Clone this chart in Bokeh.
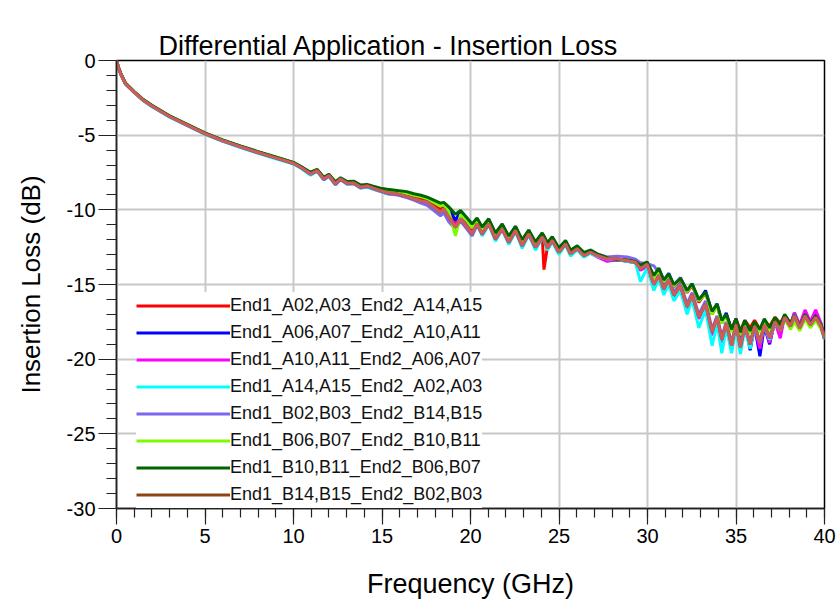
from bokeh.plotting import figure
from bokeh.models import FixedTicker, Legend, LegendItem, Title
from bokeh.embed import file_html
from bokeh.resources import INLINE

# ---------------- data ----------------
freq_ghz = [
    0, 0.1, 0.25, 0.5, 1, 1.5, 2, 3, 4, 5,
    6, 7, 8, 9, 10, 10.4, 10.96, 11.34, 11.71, 12.0,
    12.37, 12.66, 13.03, 13.4, 13.79, 14.16, 14.5, 14.92, 15.3, 15.85,
    16.4, 16.8, 17.2, 17.55, 17.93, 18.3, 18.49, 18.77, 19.15, 19.44,
    19.81, 20.09, 20.37, 20.66, 21.03, 21.41, 21.79, 22.16, 22.54, 22.92,
    23.29, 23.67, 24.05, 24.15, 24.35, 24.62, 24.99, 25.37, 25.65, 26.03,
    26.4, 26.78, 27.15, 27.72, 28.28, 28.85, 29.32, 29.6, 29.98, 30.36,
    30.64, 30.92, 31.2, 31.49, 31.86, 32.24, 32.52, 32.9, 33.28, 33.65,
    33.93, 34.2, 34.45, 34.75, 35.0, 35.25, 35.5, 35.8, 36.05, 36.35,
    36.6, 36.9, 37.2, 37.5, 37.75, 38.08, 38.3, 38.6, 38.9, 39.2,
    39.5, 39.8, 40.0,
]

il_a02_a03 = [
    0.0, -0.45, -0.91, -1.54, -2.11, -2.64, -3.04, -3.74, -4.32, -4.89,
    -5.36, -5.76, -6.14, -6.50, -6.86, -7.12, -7.55, -7.34, -7.90, -7.67,
    -8.22, -7.90, -8.18, -8.15, -8.44, -8.36, -8.50, -8.66, -8.78, -8.85,
    -8.98, -9.10, -9.22, -9.32, -9.62, -9.95, -9.80, -10.30, -10.90, -10.40,
    -10.95, -11.35, -10.80, -11.40, -10.80, -11.80, -11.15, -12.00, -11.28, -12.25,
    -11.50, -12.38, -11.70, -14.00, -12.45, -11.95, -12.72, -12.18, -12.85, -12.52,
    -12.98, -12.78, -13.02, -13.25, -13.30, -13.38, -13.48, -13.85, -13.60, -14.60,
    -14.05, -14.85, -14.40, -15.15, -14.70, -15.55, -15.05, -16.20, -15.55, -17.00,
    -16.40, -17.60, -17.00, -18.00, -17.30, -18.10, -17.40, -17.90, -17.40, -18.00,
    -17.40, -17.80, -17.20, -17.60, -17.10, -17.70, -17.20, -17.90, -17.10, -17.70,
    -17.20, -17.80, -18.60,
]

il_a06_a07 = [
    0.0, -0.44, -0.90, -1.53, -2.10, -2.63, -3.03, -3.73, -4.31, -4.88,
    -5.35, -5.75, -6.13, -6.49, -6.85, -7.10, -7.52, -7.33, -7.87, -7.66,
    -8.20, -7.89, -8.16, -8.13, -8.42, -8.35, -8.48, -8.62, -8.72, -8.80,
    -8.88, -9.00, -9.10, -9.20, -9.45, -9.70, -9.55, -9.90, -10.70, -10.10,
    -10.70, -11.15, -10.60, -11.25, -10.65, -11.65, -10.98, -11.85, -11.12, -12.10,
    -11.38, -12.25, -11.58, -11.78, -12.30, -11.85, -12.60, -12.10, -12.75, -12.48,
    -12.95, -12.80, -13.10, -13.40, -13.35, -13.45, -13.55, -13.90, -13.50, -14.50,
    -13.95, -14.75, -14.25, -15.05, -14.55, -15.45, -14.95, -16.10, -15.40, -16.90,
    -16.30, -17.50, -16.90, -18.10, -17.30, -18.60, -17.60, -19.40, -17.80, -19.80,
    -17.80, -19.00, -17.40, -18.30, -17.10, -17.70, -16.90, -17.80, -16.80, -17.60,
    -16.90, -17.60, -18.70,
]

il_a10_a11 = [
    0.0, -0.46, -0.93, -1.56, -2.13, -2.66, -3.06, -3.76, -4.34, -4.91,
    -5.38, -5.78, -6.17, -6.53, -6.89, -7.16, -7.62, -7.40, -7.97, -7.73,
    -8.30, -7.96, -8.26, -8.23, -8.52, -8.44, -8.60, -8.76, -8.90, -8.98,
    -9.15, -9.30, -9.45, -9.55, -9.90, -10.25, -10.00, -10.50, -11.00, -10.55,
    -11.10, -11.55, -10.90, -11.55, -10.90, -11.90, -11.22, -12.12, -11.36, -12.36,
    -11.58, -12.48, -11.80, -11.98, -12.55, -12.05, -12.82, -12.27, -12.95, -12.60,
    -13.05, -12.90, -13.15, -13.45, -13.35, -13.42, -13.55, -14.05, -13.80, -15.30,
    -14.40, -15.40, -14.75, -15.80, -15.20, -16.60, -15.80, -17.30, -16.40, -18.40,
    -17.30, -18.90, -17.70, -19.20, -17.80, -19.10, -17.80, -19.00, -17.90, -19.30,
    -17.70, -18.90, -17.50, -18.60, -17.10, -17.70, -16.90, -17.70, -16.70, -17.50,
    -16.70, -17.60, -18.40,
]

il_a14_a15 = [
    0.0, -0.47, -0.95, -1.58, -2.15, -2.68, -3.09, -3.79, -4.37, -4.95,
    -5.42, -5.83, -6.22, -6.58, -6.94, -7.20, -7.68, -7.42, -8.00, -7.75,
    -8.33, -7.98, -8.28, -8.25, -8.55, -8.47, -8.62, -8.78, -8.92, -8.98,
    -9.12, -9.30, -9.45, -9.55, -9.90, -10.25, -10.00, -10.55, -11.25, -10.65,
    -11.25, -11.75, -11.00, -11.75, -11.00, -12.10, -11.32, -12.32, -11.45, -12.58,
    -11.68, -12.70, -11.90, -12.05, -12.70, -12.12, -13.00, -12.34, -13.10, -12.68,
    -13.18, -12.90, -13.12, -13.30, -13.32, -13.45, -13.55, -14.80, -13.90, -15.40,
    -14.60, -15.70, -15.00, -16.10, -15.40, -17.00, -16.00, -17.90, -16.70, -19.10,
    -17.60, -19.60, -17.90, -19.60, -18.00, -19.65, -18.00, -19.30, -17.90, -18.90,
    -17.80, -18.70, -17.60, -18.10, -17.30, -17.90, -17.20, -17.90, -17.20, -17.80,
    -17.30, -17.90, -18.70,
]

il_b02_b03 = [
    0.0, -0.45, -0.92, -1.55, -2.12, -2.66, -3.06, -3.76, -4.34, -4.92,
    -5.39, -5.79, -6.18, -6.54, -6.90, -7.17, -7.62, -7.40, -7.98, -7.74,
    -8.32, -7.97, -8.27, -8.24, -8.53, -8.45, -8.60, -8.76, -8.92, -9.00,
    -9.18, -9.35, -9.55, -9.70, -10.05, -10.40, -10.20, -10.80, -11.30, -10.75,
    -11.30, -11.75, -11.00, -11.65, -10.95, -11.98, -11.30, -12.20, -11.42, -12.42,
    -11.64, -12.52, -11.86, -12.02, -12.55, -12.05, -12.80, -12.25, -12.90, -12.55,
    -12.95, -12.70, -12.95, -13.15, -13.10, -13.15, -13.30, -13.55, -13.60, -13.75,
    -14.20, -15.10, -14.55, -15.50, -14.95, -16.30, -15.55, -17.00, -16.10, -18.00,
    -17.10, -18.50, -17.50, -18.90, -17.60, -19.00, -17.70, -18.90, -17.70, -18.80,
    -17.60, -18.50, -17.40, -18.00, -17.10, -17.70, -17.00, -17.80, -17.00, -17.60,
    -17.10, -17.70, -18.50,
]

il_b06_b07 = [
    0.0, -0.44, -0.90, -1.52, -2.10, -2.62, -3.02, -3.72, -4.30, -4.87,
    -5.34, -5.74, -6.12, -6.48, -6.84, -7.10, -7.52, -7.32, -7.86, -7.65,
    -8.18, -7.88, -8.15, -8.12, -8.40, -8.34, -8.48, -8.62, -8.70, -8.80,
    -8.90, -9.02, -9.12, -9.25, -9.50, -9.75, -9.65, -10.10, -11.75, -10.30,
    -10.75, -11.20, -10.70, -11.30, -10.70, -11.70, -11.05, -11.90, -11.20, -12.15,
    -11.45, -12.30, -11.65, -11.85, -12.35, -11.90, -12.65, -12.15, -12.80, -12.50,
    -12.95, -12.75, -13.00, -13.25, -13.30, -13.40, -13.50, -13.80, -13.60, -14.60,
    -14.00, -14.80, -14.35, -15.10, -14.60, -15.50, -15.00, -16.10, -15.55, -17.00,
    -16.40, -17.60, -17.10, -18.20, -17.40, -18.40, -17.60, -18.30, -17.70, -18.20,
    -17.50, -18.10, -17.40, -17.90, -17.30, -18.00, -17.50, -18.10, -17.30, -17.90,
    -17.40, -18.00, -18.50,
]

il_b10_b11 = [
    0.0, -0.42, -0.88, -1.50, -2.08, -2.60, -3.00, -3.70, -4.28, -4.85,
    -5.32, -5.72, -6.10, -6.46, -6.82, -7.08, -7.48, -7.30, -7.82, -7.62,
    -8.12, -7.85, -8.10, -8.08, -8.34, -8.30, -8.42, -8.55, -8.62, -8.70,
    -8.78, -8.92, -9.02, -9.15, -9.35, -9.55, -9.50, -9.80, -10.30, -10.05,
    -10.55, -10.95, -10.55, -11.15, -10.60, -11.55, -10.95, -11.75, -11.10, -12.00,
    -11.35, -12.15, -11.55, -11.75, -12.20, -11.80, -12.55, -12.05, -12.70, -12.40,
    -12.85, -12.70, -12.95, -13.20, -13.35, -13.35, -13.45, -13.70, -13.50, -14.40,
    -13.90, -14.70, -14.30, -15.00, -14.60, -15.40, -14.95, -16.00, -15.50, -16.80,
    -16.30, -17.40, -17.00, -18.00, -17.30, -18.20, -17.40, -18.10, -17.50, -18.00,
    -17.30, -17.90, -17.20, -17.70, -17.00, -17.60, -17.05, -17.80, -17.00, -17.60,
    -17.10, -17.70, -18.40,
]

il_b14_b15 = [
    0.0, -0.45, -0.92, -1.55, -2.12, -2.65, -3.05, -3.75, -4.33, -4.90,
    -5.37, -5.77, -6.16, -6.52, -6.88, -7.15, -7.59, -7.37, -7.93, -7.70,
    -8.26, -7.93, -8.22, -8.20, -8.48, -8.40, -8.55, -8.71, -8.85, -8.93,
    -9.10, -9.26, -9.40, -9.48, -9.82, -10.16, -9.93, -10.49, -11.16, -10.60,
    -11.16, -11.60, -10.94, -11.60, -10.94, -11.94, -11.27, -12.16, -11.39, -12.39,
    -11.61, -12.50, -11.83, -12.00, -12.55, -12.06, -12.84, -12.28, -12.95, -12.61,
    -13.06, -12.84, -13.06, -13.28, -13.28, -13.40, -13.51, -13.95, -13.65, -15.00,
    -14.40, -15.30, -14.70, -15.70, -15.10, -16.50, -15.70, -17.20, -16.30, -18.20,
    -17.20, -18.70, -17.60, -19.10, -17.70, -19.20, -17.80, -19.00, -17.80, -18.90,
    -17.70, -18.60, -17.50, -18.10, -17.20, -17.80, -17.10, -17.90, -17.10, -17.70,
    -17.20, -17.80, -18.60,
]

series_labels = [
    "End1_A02,A03_End2_A14,A15",
    "End1_A06,A07_End2_A10,A11",
    "End1_A10,A11_End2_A06,A07",
    "End1_A14,A15_End2_A02,A03",
    "End1_B02,B03_End2_B14,B15",
    "End1_B06,B07_End2_B10,B11",
    "End1_B10,B11_End2_B06,B07",
    "End1_B14,B15_End2_B02,B03",
]
series_values = [il_a02_a03, il_a06_a07, il_a10_a11, il_a14_a15,
                 il_b02_b03, il_b06_b07, il_b10_b11, il_b14_b15]

x_ticks = [0, 5, 10, 15, 20, 25, 30, 35, 40]
y_ticks = [0, -5, -10, -15, -20, -25, -30]

title_text = "Differential Application - Insertion Loss"
x_label = "Frequency (GHz)"
y_label = "Insertion Loss (dB)"

# ---------------- styles ----------------
legend_colors = ["#FF0000", "#0000FF", "#FF00FF", "#00FFFF",
                 "#7B68EE", "#7CFC00", "#006400", "#8B4513"]
top_trace_color = "#CD5C5C"   # how the last trace appears on the plot
FONT = "Liberation Sans"

p = figure(width=839, height=602, x_range=(0, 40), y_range=(-30, 0),
           output_backend="svg", toolbar_location=None,
           min_border_left=116, min_border_right=15,
           min_border_top=60, min_border_bottom=94)

# visible title (outermost panel)
p.title.text = title_text
p.title.text_font = FONT
p.title.text_font_size = "27px"
p.title.text_font_style = "normal"
p.title.text_color = "#000000"
p.title.align = "left"
p.title.offset = 42
p.title.standoff = 0
# tiny blank spacer panel between the frame and the title
p.add_layout(Title(text=" ", text_font_size="1px", text_alpha=0, standoff=22), "above")

p.outline_line_color = "#000000"
p.outline_line_width = 1.5

for g in (p.xgrid, p.ygrid):
    g.grid_line_color = "#C8C8C8"
    g.grid_line_width = 2
p.xgrid.ticker = FixedTicker(ticks=x_ticks)
p.ygrid.ticker = FixedTicker(ticks=y_ticks)

p.xaxis.ticker = FixedTicker(ticks=x_ticks, minor_ticks=list(range(0, 41)))
p.yaxis.ticker = FixedTicker(ticks=y_ticks, minor_ticks=list(range(-30, 1)))
p.xaxis.major_label_overrides = {t: str(t) for t in x_ticks}
p.yaxis.major_label_overrides = {t: str(t) for t in y_ticks}

for ax in (p.xaxis, p.yaxis):
    ax.axis_line_color = "#222222"
    ax.axis_line_width = 1.5
    ax.major_tick_line_color = "#222222"
    ax.minor_tick_line_color = "#222222"
    ax.major_tick_line_width = 1.2
    ax.minor_tick_line_width = 1.2
    ax.major_tick_in = 0
    ax.minor_tick_in = 0
    ax.major_label_text_font = FONT
    ax.major_label_text_font_size = "20px"
    ax.major_label_text_color = "#000000"
    ax.axis_label_text_font = FONT
    ax.axis_label_text_font_style = "normal"
    ax.axis_label_text_color = "#000000"

p.xaxis.axis_label = x_label
p.yaxis.axis_label = y_label
p.xaxis.axis_label_text_font_size = "27px"
p.yaxis.axis_label_text_font_size = "26px"
p.xaxis.major_tick_out = 16
p.xaxis.minor_tick_out = 9
p.yaxis.major_tick_out = 18
p.yaxis.minor_tick_out = 10
p.yaxis.major_label_standoff = 3
p.xaxis.major_label_standoff = 4
p.xaxis.axis_label_standoff = 23
p.yaxis.axis_label_standoff = 18

items = []
n = len(series_values)
for i, (vals, col, lab) in enumerate(zip(series_values, legend_colors, series_labels)):
    r = p.line(freq_ghz, vals, line_color=col, line_width=3)
    items.append(LegendItem(label=lab, renderers=[r]))
    if i == n - 1:
        # the last trace shows in a lighter red-brown on the plot itself
        p.line(freq_ghz, vals, line_color=top_trace_color, line_width=3)

legend = Legend(items=items, location=(20, 0), orientation="vertical",
                glyph_width=94, glyph_height=27, label_height=27,
                label_standoff=0, spacing=0, padding=3, margin=0,
                border_line_color=None, background_fill_color="#FFFFFF",
                background_fill_alpha=1.0,
                label_text_font=FONT, label_text_font_size="18px",
                label_text_color="#111111", label_text_baseline="alphabetic")
p.add_layout(legend, "center")

open("out.html", "w").write(file_html(p, INLINE))
